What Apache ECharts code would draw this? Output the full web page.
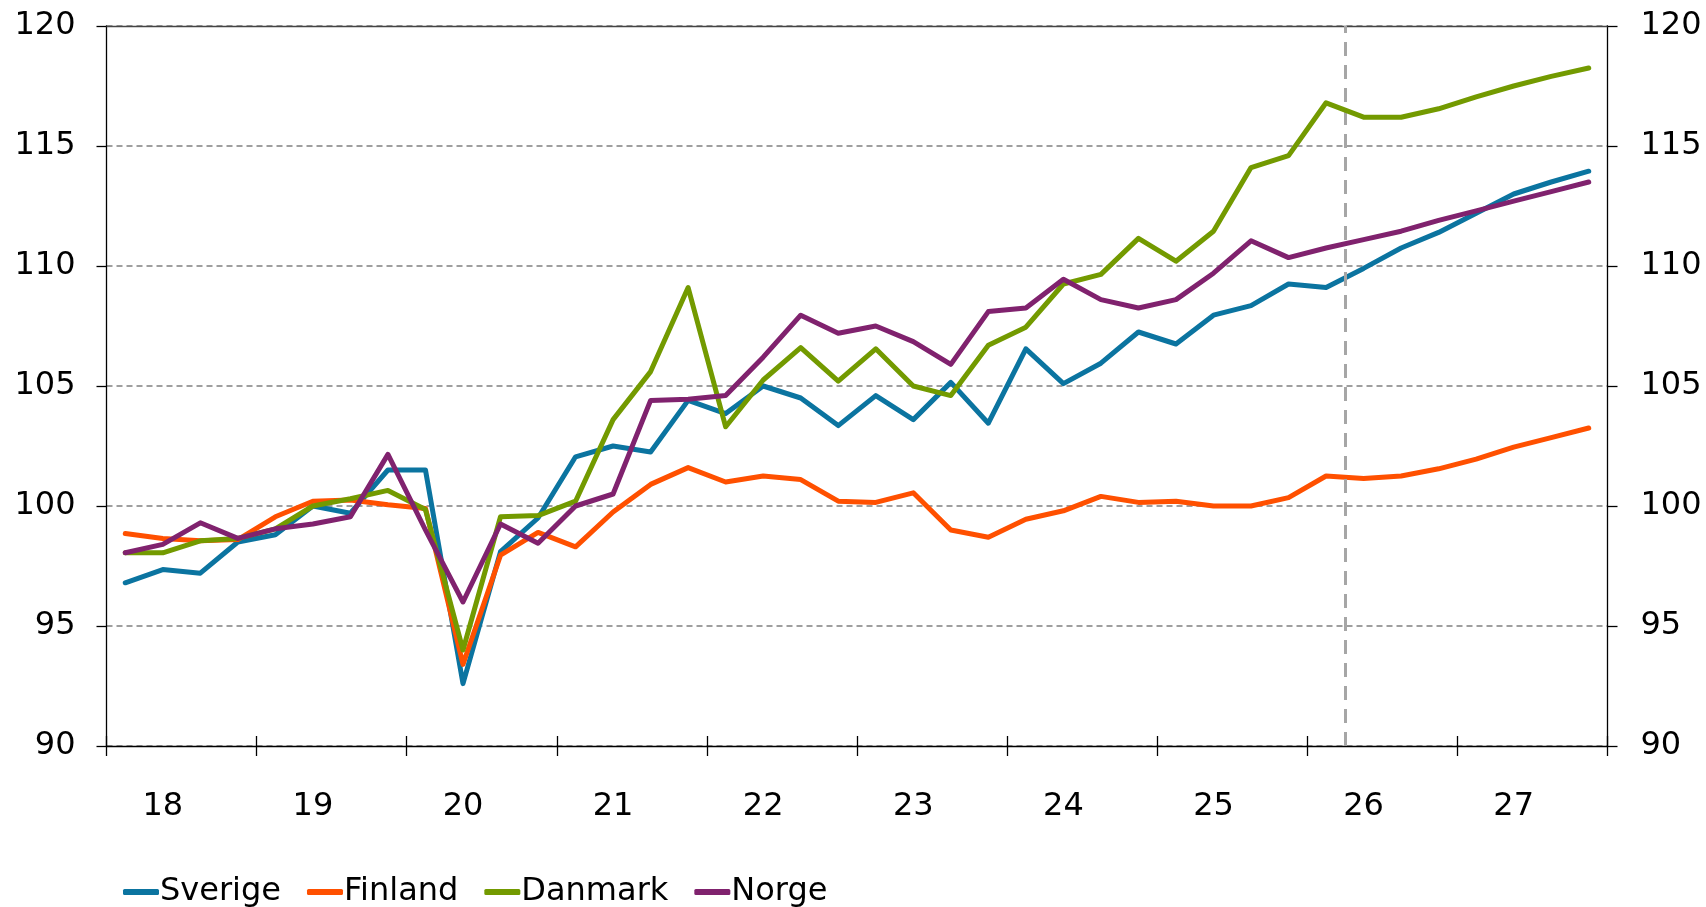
<!DOCTYPE html>
<html>
<head>
<meta charset="utf-8">
<script src="https://cdn.jsdelivr.net/npm/echarts@6/dist/echarts.min.js"></script>
<style>
  html, body { margin: 0; padding: 0; background: #fff; }
  #chart { width: 1706px; height: 907px; }
</style>
</head>
<body>
<div id="chart"></div>
<script>
// kvartal 2018K1 - 2027K4
const years = ["18", "19", "20", "21", "22", "23", "24", "25", "26", "27"];
const quarters = [];
years.forEach(function (y) {
  for (let q = 1; q <= 4; q++) quarters.push(y + "Q" + q);
});

const sverige = [96.8, 97.35, 97.2, 98.5, 98.8, 100.0, 99.7, 101.5, 101.5, 92.6,
  98.1, 99.5, 102.05, 102.5, 102.25, 104.4, 103.85, 105.0, 104.5, 103.35,
  104.6, 103.6, 105.15, 103.45, 106.55, 105.1, 105.95, 107.25, 106.75, 107.95,
  108.35, 109.25, 109.1, 109.9, 110.75, 111.4, 112.2, 113.0, 113.5, 113.95];
const finland = [98.85, 98.65, 98.55, 98.6, 99.55, 100.2, 100.25, 100.05, 99.9, 93.4,
  97.95, 98.9, 98.3, 99.75, 100.9, 101.6, 101.0, 101.25, 101.1, 100.2,
  100.15, 100.55, 99.0, 98.7, 99.45, 99.8, 100.4, 100.15, 100.2, 100.0,
  100.0, 100.35, 101.25, 101.15, 101.25, 101.55, 101.95, 102.45, 102.85, 103.25];
const danmark = [98.05, 98.05, 98.55, 98.65, 99.05, 100.0, 100.3, 100.65, 99.85, 94.0,
  99.55, 99.6, 100.2, 103.6, 105.6, 109.1, 103.3, 105.25, 106.6, 105.2,
  106.55, 105.0, 104.6, 106.7, 107.45, 109.25, 109.65, 111.15, 110.2, 111.45,
  114.1, 114.6, 116.8, 116.2, 116.2, 116.55, 117.05, 117.5, 117.9, 118.25];
const norge = [98.05, 98.4, 99.3, 98.65, 99.05, 99.25, 99.55, 102.15, 99.0, 96.0,
  99.25, 98.45, 100.0, 100.5, 104.4, 104.45, 104.6, 106.2, 107.95, 107.2,
  107.5, 106.85, 105.9, 108.1, 108.25, 109.45, 108.6, 108.25, 108.6, 109.7,
  111.05, 110.35, 110.75, 111.1, 111.45, 111.9, 112.3, 112.7, 113.1, 113.5];

// prognosgräns (mellan 26K1 och 26K2)
const forecastStart = 32.5;

const names = ["Sverige", "Finland", "Danmark", "Norge"];
const colors = ["#0b74a0", "#ff5000", "#739a00", "#80226e"];
const values = [sverige, finland, danmark, norge];

const font = "DejaVu Sans, Verdana, sans-serif";
const chart = echarts.init(document.getElementById("chart"));

const yAxisBase = {
  type: "value",
  min: 90,
  max: 120,
  interval: 5,
  axisLine: { show: true, onZero: false, lineStyle: { color: "#000", width: 1.3 } },
  axisTick: { show: true, length: 10, lineStyle: { color: "#000", width: 1.3 } },
};

const series = names.map(function (n, i) {
  return {
    name: n,
    type: "line",
    data: values[i],
    symbol: "none",
    lineStyle: { width: 5, color: colors[i], cap: "round", join: "round" },
    itemStyle: { color: colors[i] },
    z: 3 + i,
  };
});
series.push({
  type: "line",
  xAxisIndex: 2,
  data: [],
  silent: true,
  markLine: {
    silent: true,
    symbol: ["none", "none"],
    label: { show: false },
    lineStyle: { color: "#a6a6a6", width: 3, type: [14, 9] },
    data: [{ xAxis: forecastStart }],
  },
});

chart.setOption({
  animation: false,
  backgroundColor: "#fff",
  grid: { left: 106.5, right: 98.5, top: 26, bottom: 161, containLabel: false },
  legend: {
    data: names,
    left: 123,
    top: 876,
    padding: 0,
    itemGap: 26,
    itemWidth: 36,
    itemHeight: 6,
    icon: "roundRect",
    textStyle: { color: "#000", fontSize: 32, fontFamily: font, padding: [0, 0, 0, -4] },
  },
  xAxis: [
    {
      type: "category",
      data: quarters,
      position: "bottom",
      boundaryGap: true,
      axisLine: { show: true, onZero: false, lineStyle: { color: "#000", width: 1.3 } },
      axisTick: {
        show: true,
        length: 10,
        interval: function (i) { return i % 4 === 0; },
        lineStyle: { color: "#000", width: 1.3 },
      },
      axisLabel: {
        color: "#000",
        fontSize: 32,
        fontFamily: font,
        margin: 45,
        interval: function (i) { return i % 4 === 1; },
        formatter: function (v) { return v.slice(0, 2); },
      },
      splitLine: { show: false },
    },
    {
      type: "category",
      data: quarters,
      position: "bottom",
      boundaryGap: true,
      axisLine: { show: false, onZero: false },
      axisTick: {
        show: true,
        inside: true,
        length: 10,
        interval: function (i) { return i % 4 === 0; },
        lineStyle: { color: "#000", width: 1.3 },
      },
      axisLabel: { show: false },
      splitLine: { show: false },
    },
    {
      type: "value",
      min: -0.5,
      max: 39.5,
      show: false,
    },
    {
      // övre kant
      type: "category",
      data: quarters,
      position: "top",
      axisLine: { show: true, onZero: false, lineStyle: { color: "#444", width: 1.3 } },
      axisTick: { show: false },
      axisLabel: { show: false },
      splitLine: { show: false },
    },
  ],
  yAxis: [
    Object.assign({}, yAxisBase, {
      position: "left",
      axisLabel: { color: "#000", fontSize: 32, fontFamily: font, margin: 31 },
      splitLine: { show: true, lineStyle: { color: "#808080", width: 1.5, type: [6, 4] } },
    }),
    Object.assign({}, yAxisBase, {
      position: "right",
      axisLabel: { color: "#000", fontSize: 32, fontFamily: font, margin: 33 },
      splitLine: { show: false },
    }),
  ],
  series: series,
});
</script>
</body>
</html>
